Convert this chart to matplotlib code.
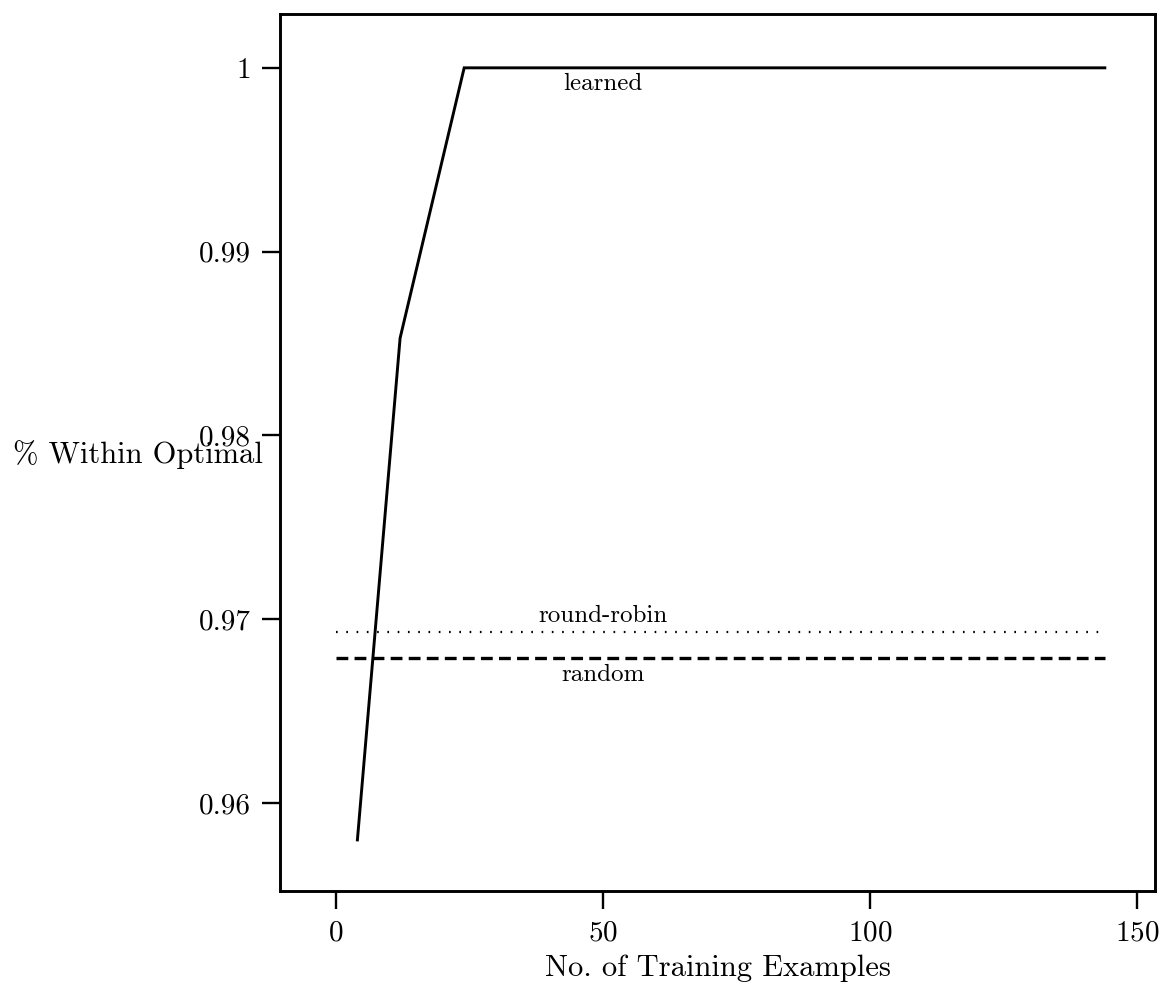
import matplotlib
matplotlib.use("Agg")
import matplotlib.pyplot as plt

plt.rcParams['font.family'] = ['cmr10', 'DejaVu Serif']
plt.rcParams['axes.formatter.use_mathtext'] = True
plt.rcParams['lines.scale_dashes'] = False

# Data
learned_x = [4, 12, 24, 48, 72, 96, 120, 144]
learned_y = [0.958, 0.9853, 1.0, 1.0, 1.0, 1.0, 1.0, 1.0]
rr_x = [0, 144]
rr_y = [0.9693, 0.9693]
random_x = [0, 144]
random_y = [0.9679, 0.9679]

xticks = [0, 50, 100, 150]
yticks = [0.96, 0.97, 0.98, 0.99, 1.0]
ytick_labels = ['0.96', '0.97', '0.98', '0.99', '1']

fig = plt.figure(figsize=(11.70, 9.91), dpi=100)
ax = fig.add_axes([0.2393, 0.1009, 0.9872 - 0.2393, 0.9859 - 0.1009])

ax.plot(learned_x, learned_y, color='black', lw=2.1, solid_joinstyle='miter')
ax.plot(rr_x, rr_y, color='black', lw=1.6, dashes=(1.2, 6.2))
ax.plot(random_x, random_y, color='black', lw=2.4, dashes=(8.5, 4.5))

ax.text(50, 0.9988, 'learned', ha='center', va='baseline', fontsize=18)
ax.text(50, 0.96984, 'round-robin', ha='center', va='baseline', fontsize=18)
ax.text(50, 0.96663, 'random', ha='center', va='baseline', fontsize=18)

ax.set_xlim(-10.5, 153.4)
ax.set_ylim(0.95522, 1.00293)
ax.set_xticks(xticks)
ax.set_yticks(yticks)
ax.set_yticklabels(ytick_labels)

for s in ax.spines.values():
    s.set_linewidth(2.1)

ax.tick_params(direction='out', length=13, width=1.7, labelsize=21, pad=8)

ax.set_xlabel('No. of Training Examples', fontsize=22, labelpad=6)
ax.set_ylabel('% Within Optimal', fontsize=22, rotation=0, ha='right', va='baseline')
ax.yaxis.set_label_coords(-0.0194, 0.488)

fig.savefig('out.png', dpi=100)
